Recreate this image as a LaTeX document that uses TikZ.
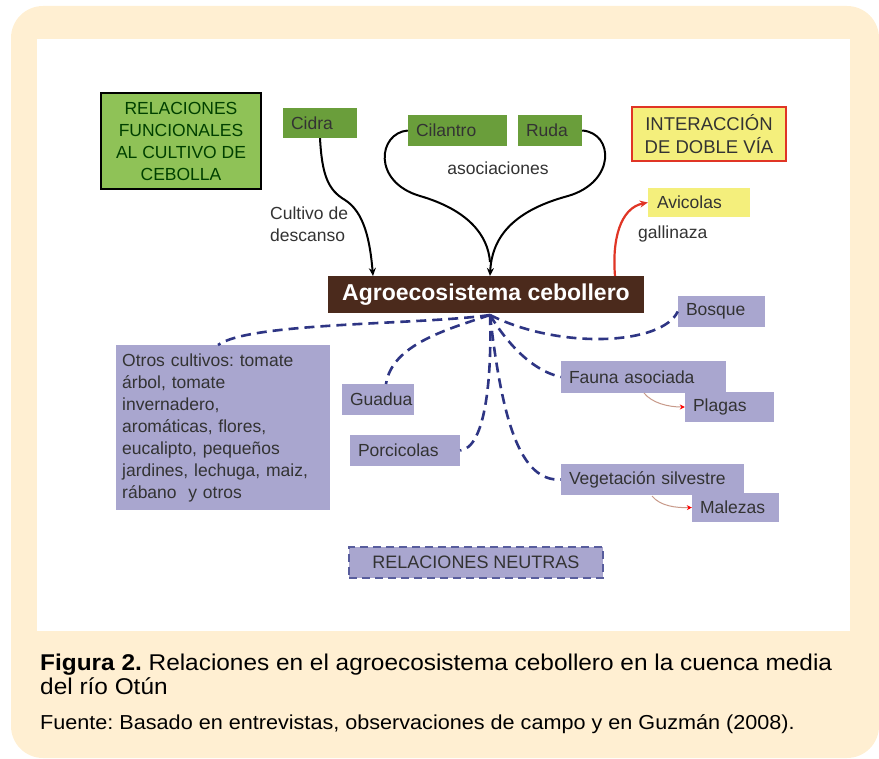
\documentclass[tikz,border=0pt]{standalone}
\usepackage{fontspec}
\setmainfont{Liberation Sans}
\newfontfamily\capfont[FakeStretch=1.07]{Liberation Sans}
\usetikzlibrary{arrows.meta}
\frenchspacing
\definecolor{cream}{HTML}{FFEFD2}
\definecolor{glight}{HTML}{8FC257}
\definecolor{gdark}{HTML}{6A9E3B}
\definecolor{ylw}{HTML}{F4EF7C}
\definecolor{brn}{HTML}{4B2A1C}
\definecolor{purp}{HTML}{A9A6CF}
\definecolor{navy}{HTML}{2E3584}
\definecolor{txt}{HTML}{333333}
\definecolor{redl}{HTML}{E03525}
\definecolor{pinkl}{HTML}{C89A8A}
\tikzset{
  pbox/.style={fill=purp, draw=none, inner xsep=8pt, inner ysep=0pt, text=txt, font=\fontsize{17.5}{22}\selectfont},
  gbox/.style={fill=gdark, draw=none, inner xsep=8pt, inner ysep=0pt, text=txt, font=\fontsize{17.5}{20}\selectfont},
  dashln/.style={navy, line width=2.6pt, dash pattern=on 10pt off 6pt},
  blk/.style={black, line width=2pt, -{Stealth[length=8pt,width=7pt]}},
  redarr/.style={redl, line width=2.2pt, -{Stealth[length=8pt,width=7pt]}},
  smallred/.style={draw=pinkl, line width=1pt, -{Stealth[length=5pt,width=5pt,color=red]}},
  lbl/.style={text=txt, font=\fontsize{17.5}{22}\selectfont, inner sep=0pt}
}
\begin{document}
\begin{tikzpicture}[x=1pt,y=-1pt]
\useasboundingbox (0,0) rectangle (879,759);
% frame
\fill[cream, rounded corners=32pt] (11,6) rectangle (879,758);
\fill[white] (37,39) rectangle (850,631);

% green / yellow boxes
\node[fill=glight, draw=black, line width=2.5pt, minimum width=160pt, minimum height=96pt, inner sep=0pt,
      align=center, text=black!75!green, font=\fontsize{17.5}{22}\selectfont] (rf) at (181,141)
      {RELACIONES\\FUNCIONALES\\AL CULTIVO DE\\CEBOLLA};
\node[gbox, minimum width=74pt, minimum height=30pt, text width=58pt, align=left] (cidra) at (320,123) {Cidra};
\node[gbox, minimum width=99pt, minimum height=31pt, text width=83pt, align=left] (cil) at (457.5,130.5) {Cilantro};
\node[gbox, minimum width=64pt, minimum height=31pt, text width=48pt, align=left] (ruda) at (550,130.5) {Ruda};
\node[fill=ylw, draw=redl, line width=2.5pt, minimum width=154pt, minimum height=54pt, inner sep=0pt,
      align=center, text=txt, font=\fontsize{18.5}{23}\selectfont] (inter) at (709,134)
      {INTERACCIÓN\\DE DOBLE VÍA};
\node[fill=ylw, minimum width=102pt, minimum height=29pt, inner xsep=9pt, inner ysep=0pt, text width=84pt, align=left,
      text=txt, font=\fontsize{17.5}{20}\selectfont] (avic) at (699,202.5) {Avicolas};

% central node
\node[fill=brn, minimum width=316pt, minimum height=37pt, inner sep=0pt, text=white,
      font=\fontsize{23}{26}\selectfont\bfseries] (agro) at (486,294.5) {Agroecosistema cebollero};

% purple boxes
\node[pbox, minimum width=87pt, minimum height=31pt, text width=71pt, align=left] (bosque) at (721.5,311.5) {Bosque};
\node[pbox, inner xsep=6pt, minimum width=214pt, minimum height=165pt, text width=202pt, align=left, anchor=north west] (otros) at (116,345)
  {Otros cultivos: tomate\\árbol, tomate\\invernadero,\\aromáticas, flores,\\eucalipto, pequeños\\jardines, lechuga, maiz,\\rábano\ \ y otros};
\node[pbox, minimum width=72pt, minimum height=31pt, text width=56pt, align=left] (guadua) at (378,399.5) {Guadua};
\node[pbox, minimum width=110pt, minimum height=31pt, text width=94pt, align=left] (porc) at (405,450.5) {Porcicolas};
\node[pbox, minimum width=165pt, minimum height=32pt, text width=149pt, align=left] (fauna) at (643.5,377) {Fauna asociada};
\node[pbox, minimum width=89pt, minimum height=30pt, text width=73pt, align=left] (plagas) at (729.5,407) {Plagas};
\node[pbox, minimum width=183pt, minimum height=31pt, text width=167pt, align=left] (veg) at (652.5,479.5) {Vegetación silvestre};
\node[pbox, minimum width=87pt, minimum height=29pt, text width=71pt, align=left] (malezas) at (735.5,507.5) {Malezas};
\node[pbox, draw=navy!80, line width=2.2pt, dash pattern=on 8pt off 5pt, minimum width=254pt, minimum height=31pt,
      font=\fontsize{18}{20}\selectfont] (neutras) at (476,562.5) {RELACIONES NEUTRAS};

% labels
\node[lbl, align=left, anchor=north west] (cdl) at (270,207) {Cultivo de\\descanso};
\node[lbl] (asoc) at (498,168) {asociaciones};
\node[lbl, anchor=west] (gall) at (638,234) {gallinaza};

% hub coordinates
\coordinate (hub) at (490,315);

% black connectors
\draw[blk] (cidra.south) .. controls (322,175) and (328,190) .. (345,200)
  .. controls (364,212) and (370,240) .. (373,276);
\draw[black, line width=2pt] (cil.west) .. controls (378,133) and (372,182) .. (420,196)
  .. controls (468,210) and (488,235) .. (490,262);
\draw[blk] (ruda.east) .. controls (614,133) and (616,182) .. (568,196)
  .. controls (516,210) and (492,235) .. (490,276);

% red double-way
\draw[redarr] (615,276) .. controls (612,240) and (620,208) .. (avic.west);

% dashed neutral relations
\draw[dashln] (hub) .. controls (420,325) and (250,322) .. (218,345);
\draw[dashln] (hub) .. controls (445,330) and (392,345) .. (386,384);
\draw[dashln] (hub) .. controls (492,380) and (485,448) .. (porc.east);
\draw[dashln] (hub) .. controls (502,420) and (520,482) .. (veg.west);
\draw[dashln] (hub) .. controls (505,340) and (530,370) .. (fauna.west);
\draw[dashln] (hub) .. controls (560,350) and (662,345) .. (bosque.west);

% small red arrows
\draw[smallred] (644,393) .. controls (652,403) and (668,407) .. (plagas.west);
\draw[smallred] (652,496) .. controls (660,506) and (676,508) .. (malezas.west);

% caption
\node[anchor=base west, inner sep=0pt, font=\capfont\fontsize{22.8}{24}\selectfont] (cap1) at (40,670)
  {\textbf{Figura 2.} Relaciones en el agroecosistema cebollero en la cuenca media};
\node[anchor=base west, inner sep=0pt, font=\capfont\fontsize{22.8}{24}\selectfont] (cap2) at (40,694) {del río Otún};
\node[anchor=base west, inner sep=0pt, font=\capfont\fontsize{20.2}{22}\selectfont] (cap3) at (40,729)
  {Fuente: Basado en entrevistas, observaciones de campo y en Guzmán (2008).};
\end{tikzpicture}
\end{document}
